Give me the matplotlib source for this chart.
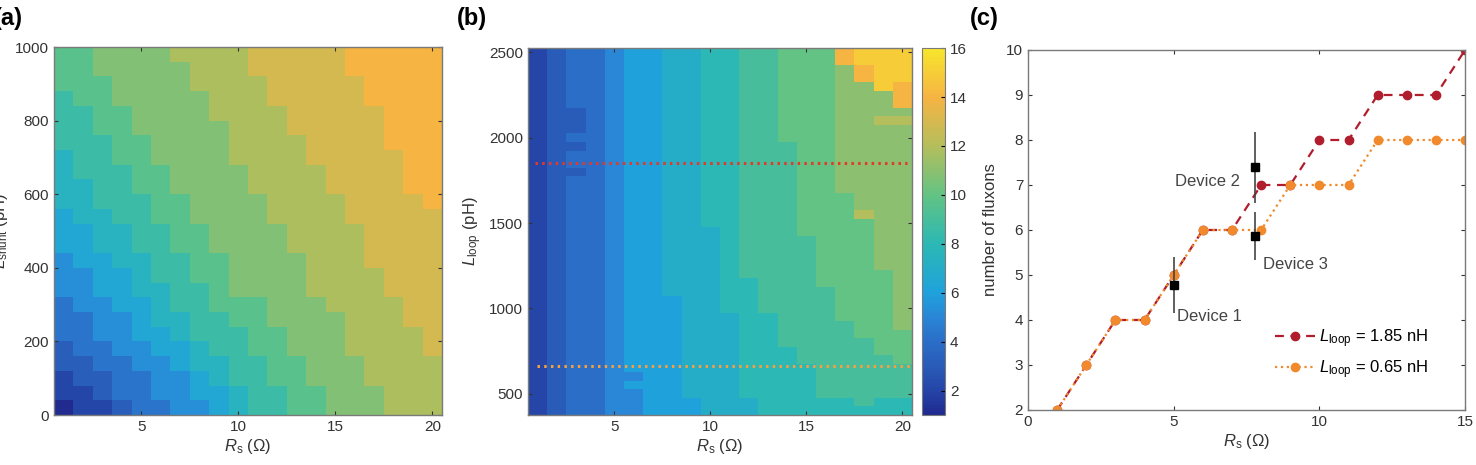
import numpy as np
import matplotlib.pyplot as plt
from matplotlib.colors import LinearSegmentedColormap

plt.rcParams['font.family'] = ['Liberation Sans', 'DejaVu Sans']
plt.rcParams['mathtext.fontset'] = 'custom'
plt.rcParams['mathtext.rm'] = 'Liberation Sans'
plt.rcParams['mathtext.it'] = 'Liberation Sans:italic'

# parula-like colour map
cmap = LinearSegmentedColormap.from_list('parula_like', [
    (0.000, '#202a8f'), (0.067, '#2545a8'), (0.133, '#295cb8'),
    (0.200, '#2a6ec8'), (0.267, '#2a86d6'), (0.333, '#1fa2dc'),
    (0.467, '#2cb8b4'), (0.600, '#63c384'), (0.733, '#b4be5c'),
    (0.867, '#f6b443'), (1.000, '#f7e52c')])

# ---- panel (a): number of fluxons vs R_s and L_shunt ----
rs_edges = np.arange(0.5, 21)
lshunt_edges = np.arange(0, 1001, 40)
# one string per L_shunt row (bottom to top), one hex digit per R_s = 1..20
map_a_rows = [
    "233455667899aabbbccc",
    "334556677899aabbbccc",
    "34455667899aabbbcccc",
    "44556678899aabbbcccc",
    "4556677899aabbbccccd",
    "5566778999aabbbccccd",
    "556678899aabbbbcccdd",
    "56677899aaabbbccccdd",
    "66778899abbbbccccddd",
    "6677899aabbbbccccddd",
    "6778899aabbbbcccdddd",
    "778899aabbbbccccdddd",
    "778899aabbbbccccdddd",
    "78899aabbbbccccddddd",
    "88999aabbbbccccdddde",
    "8899aabbbbccccddddee",
    "8999aabbbbccccddddee",
    "899aabbbbccccdddddee",
    "999aabbbbccccddddeee",
    "99aabbbbbcccdddddeee",
    "99aabbbbccccdddddeee",
    "9aabbbbbcccdddddeeee",
    "aaabbbbccccdddddeeee",
    "aabbbbbcccdddddeeeee",
    "aabbbbccccdddddeeeee",
]
map_a = np.array([[int(ch, 16) for ch in row] for row in map_a_rows])

# ---- panel (b): number of fluxons vs R_s and L_loop ----
lloop_edges = np.arange(375, 2526, 50)
# per R_s column, runs of (value, number of 50 pH cells) from L_loop = 400 upward
cols_b = [
    [(2, 43)],
    [(3, 43)],
    [(4, 28), (3, 1), (4, 2), (3, 1), (4, 1), (3, 3), (4, 7)],
    [(4, 43)],
    [(5, 43)],
    [(5, 3), (6, 1), (5, 1), (6, 38)],
    [(6, 43)],
    [(6, 14), (7, 29)],
    [(6, 2), (7, 41)],
    [(7, 22), (8, 21)],
    [(7, 12), (8, 31)],
    [(7, 2), (8, 14), (9, 27)],
    [(8, 12), (9, 31)],
    [(8, 8), (9, 24), (10, 11)],
    [(8, 6), (9, 15), (10, 22)],
    [(8, 2), (9, 13), (10, 28)],
    [(8, 2), (9, 9), (10, 15), (11, 15), (14, 2)],
    [(8, 1), (9, 8), (10, 14), (12, 1), (11, 15), (14, 2), (15, 2)],
    [(8, 2), (9, 5), (10, 10), (11, 17), (12, 1), (11, 3), (15, 5)],
    [(8, 2), (9, 4), (10, 4), (11, 24), (12, 1), (11, 1), (14, 3), (15, 4)],
]
map_b = np.column_stack([np.repeat([v for v, n in col], [n for v, n in col])
                         for col in cols_b])
cut_red = 1850
cut_orange = 660

# ---- panel (c): fluxons along the two cuts ----
rs_c = np.arange(1, 16)
n_185 = [2, 3, 4, 4, 5, 6, 6, 7, 7, 8, 8, 9, 9, 9, 10]
n_065 = [2, 3, 4, 4, 5, 6, 6, 6, 7, 7, 7, 8, 8, 8, 8]
dev_r = [5.0, 7.8, 7.8]
dev_n = [4.78, 7.39, 5.87]
dev_err = [0.62, 0.78, 0.53]

red = '#b01e2e'
orange = '#f08a2c'
gray = '#7a7a7a'


def style(ax):
    ax.tick_params(direction='in', top=True, right=True, length=3,
                   color='#333333', labelsize=11, labelcolor='#333333')
    for s in ax.spines.values():
        s.set_color(gray)
        s.set_linewidth(1.0)


fig = plt.figure(figsize=(14.76, 4.65), dpi=100)

ax_a = fig.add_axes([0.0366, 0.1075, 0.2629, 0.7914])
ax_a.pcolormesh(rs_edges, lshunt_edges, map_a, cmap=cmap, vmin=2, vmax=15.85)
ax_a.set_xlim(0.5, 20.5)
ax_a.set_ylim(0, 1000)
ax_a.set_xticks([5, 10, 15, 20])
ax_a.set_yticks([0, 200, 400, 600, 800, 1000])
ax_a.set_xlabel(r'$R_\mathrm{s}$ (Ω)', fontsize=12, color='#333333', labelpad=2)
ax_a.set_ylabel(r'$L_\mathrm{shunt}$ (pH)', fontsize=12, color='#333333', labelpad=4)
style(ax_a)
fig.text(0.0155, 0.96, '(a)', fontsize=17, fontweight='bold', ha='right', va='center')

ax_b = fig.add_axes([0.3577, 0.1075, 0.2602, 0.789])
mesh = ax_b.pcolormesh(rs_edges, lloop_edges, map_b, cmap=cmap, vmin=1, vmax=16)
ax_b.plot([0.85, 20.25], [cut_red, cut_red], color='#e03a2a', lw=2.2,
          linestyle=(0, (0.8, 1.4)))
ax_b.plot([0.95, 20.5], [cut_orange, cut_orange], color='#f5a040', lw=2.2,
          linestyle=(0, (0.8, 1.4)))
ax_b.set_xlim(0.5, 20.5)
ax_b.set_ylim(375, 2525)
ax_b.set_xticks([5, 10, 15, 20])
ax_b.set_yticks([500, 1000, 1500, 2000, 2500])
ax_b.set_xlabel(r'$R_\mathrm{s}$ (Ω)', fontsize=12, color='#333333', labelpad=2)
ax_b.set_ylabel(r'$L_\mathrm{loop}$ (pH)', fontsize=12, color='#333333', labelpad=4)
style(ax_b)
fig.text(0.3097, 0.96, '(b)', fontsize=17, fontweight='bold', ha='left', va='center')

cax = fig.add_axes([0.6247, 0.1075, 0.0156, 0.789])
cb = fig.colorbar(mesh, cax=cax, ticks=range(2, 17, 2))
cb.outline.set_edgecolor(gray)
cax.tick_params(direction='in', length=3, labelsize=11, labelcolor='#333333')

ax_c = fig.add_axes([0.6965, 0.1183, 0.2961, 0.7742])
ax_c.plot(rs_c, n_185, '--o', color=red, lw=1.6, ms=6, dashes=(4, 3),
          label=r'$L_\mathrm{loop}$ = 1.85 nH')
ax_c.plot(rs_c, n_065, ':o', color=orange, lw=1.6, ms=6,
          label=r'$L_\mathrm{loop}$ = 0.65 nH')
ax_c.errorbar(dev_r, dev_n, yerr=dev_err, fmt='s', color='black', ms=6,
              ecolor='#444444', elinewidth=1.2, capsize=0)
ax_c.text(5.1, 4.07, 'Device 1', fontsize=12, color='#444444', va='center', ha='left')
ax_c.text(7.27, 7.07, 'Device 2', fontsize=12, color='#444444', va='center', ha='right')
ax_c.text(8.08, 5.24, 'Device 3', fontsize=12, color='#444444', va='center', ha='left')
ax_c.set_xlim(0, 15)
ax_c.set_ylim(2, 10)
ax_c.set_xticks([0, 5, 10, 15])
ax_c.set_yticks(range(2, 11))
ax_c.set_xlabel(r'$R_\mathrm{s}$ (Ω)', fontsize=12, color='#333333', labelpad=2)
ax_c.set_ylabel('number of fluxons', fontsize=12, color='#333333', labelpad=6)
style(ax_c)
ax_c.legend(loc='lower right', bbox_to_anchor=(0.95, 0.04), frameon=False,
            fontsize=12, handlelength=2.4, handletextpad=0.2, labelspacing=0.5)
fig.text(0.657, 0.96, '(c)', fontsize=17, fontweight='bold', ha='left', va='center')

plt.savefig('out.png', dpi=100)
